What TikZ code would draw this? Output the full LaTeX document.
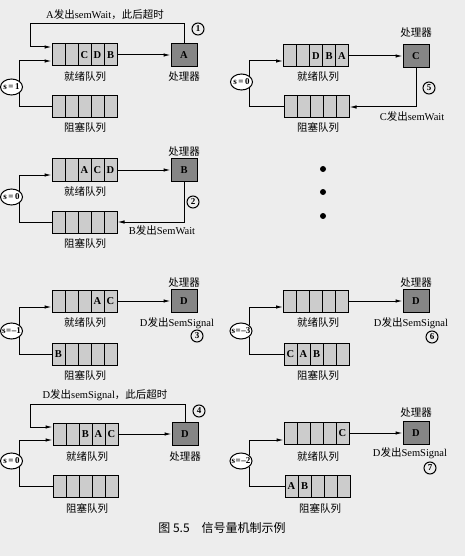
\documentclass[tikz,border=0pt]{standalone}
\usepackage{fontspec}
\setmainfont{Liberation Serif}
\newfontfamily\cjk{Noto Sans CJK SC}
\usetikzlibrary{arrows.meta,shapes.geometric}
\definecolor{cellgray}{gray}{0.80}
\definecolor{cpugray}{gray}{0.52}
\definecolor{paper}{gray}{0.93}

\begin{document}
\begin{tikzpicture}[x=1pt,y=-1pt,line width=1pt,
    cell/.style={draw,fill=cellgray,minimum width=13pt,minimum height=22pt,inner sep=0pt,font=\bfseries\fontsize{10.5}{11}\selectfont},
    cpu/.style={draw,fill=cpugray,minimum width=26pt,minimum height=23pt,inner sep=0pt,font=\bfseries\fontsize{10.5}{11}\selectfont},
    sem/.style={draw,fill=white,ellipse,minimum width=22pt,minimum height=16pt,inner xsep=-5pt,inner ysep=-1pt,font=\bfseries\fontsize{9}{10}\selectfont},
    num/.style={draw,circle,minimum size=12pt,inner sep=0pt,font=\bfseries\fontsize{9}{9}\selectfont},
    lbl/.style={font=\cjk\fontsize{10.5}{12}\selectfont},
    txt/.style={font=\fontsize{10.5}{12}\selectfont},
    arr/.style={-{Latex[length=7pt,width=3.5pt]}}]
    % Background
    \fill[paper] (0,0) rectangle (465,556);
    \useasboundingbox (0,0) rectangle (465,556);

    % (1) s = 1
    \foreach \i/\t in {1/,2/,3/C,4/D,5/B}
        \node[cell] (rq1-\i) at ({45.5+13*\i},55) {\t};
    \foreach \i in {1,...,5}
        \node[cell] (bq1-\i) at ({45.5+13*\i},107) {};
    \node[cpu] (cpu1) at (184,55) {A};
    \node[sem] (s1) at (11.5,87) {s\,=\,1};
    \node[lbl] (rl1) at (85,77) {就绪队列};
    \node[lbl] (bl1) at (85,128) {阻塞队列};
    \node[lbl] (pl1) at (184,77) {处理器};
    \node[txt] (ev1) at (105,15) {A{\cjk 发出}semWait{\cjk ，此后超时}};
    \node[num] (n1) at (198,29) {1};
    \coordinate (t1) at (30,24);
    \draw[arr] (rq1-5.east) -- (cpu1.west);
    \draw[arr] (cpu1.north) |- (t1) |- ([yshift=8pt]rq1-1.west);
    \draw[arr] (s1.north east) |- ([yshift=-6pt]rq1-1.west);
    \draw (s1.south east) |- (bq1-1.west);

    % (2) s = 0
    \foreach \i/\t in {1/,2/,3/A,4/C,5/D}
        \node[cell] (rq2-\i) at ({45.5+13*\i},170) {\t};
    \foreach \i in {1,...,5}
        \node[cell] (bq2-\i) at ({45.5+13*\i},222) {};
    \node[cpu] (cpu2) at (184,170) {B};
    \node[sem] (s2) at (11.5,197) {s\,=\,0};
    \node[lbl] (rl2) at (85,192) {就绪队列};
    \node[lbl] (bl2) at (85,243) {阻塞队列};
    \node[lbl] (pl2) at (184,152) {处理器};
    \node[txt] (ev2) at (162,231) {B{\cjk 发出}SemWait};
    \node[num] (n2) at (193,202) {2};
    \draw[arr] (rq2-5.east) -- (cpu2.west);
    \draw[arr] (cpu2.south) |- (bq2-5.east);
    \draw[arr] (s2.north east) |- ([yshift=-5pt]rq2-1.west);
    \draw (s2.south east) |- (bq2-1.west);

    % (3) s = -1
    \foreach \i/\t in {1/,2/,3/,4/A,5/C}
        \node[cell] (rq3-\i) at ({45.5+13*\i},301) {\t};
    \foreach \i/\t in {1/B,2/,3/,4/,5/}
        \node[cell] (bq3-\i) at ({45.5+13*\i},354) {\t};
    \node[cpu] (cpu3) at (184,301) {D};
    \node[sem] (s3) at (11.5,331) {s\kern.5pt=\kern.5pt--1};
    \node[lbl] (rl3) at (85,323) {就绪队列};
    \node[lbl] (bl3) at (85,375) {阻塞队列};
    \node[lbl] (pl3) at (184,283) {处理器};
    \node[txt] (ev3) at (177,323) {D{\cjk 发出}SemSignal};
    \node[num] (n3) at (197,336) {3};
    \draw[arr] (rq3-5.east) -- (cpu3.west);
    \draw[arr] (s3.north east) |- ([yshift=-6pt]rq3-1.west);
    \draw (s3.south east) |- (bq3-1.west);

    % (4) s = 0
    \foreach \i/\t in {1/,2/,3/B,4/A,5/C}
        \node[cell] (rq4-\i) at ({46.5+13*\i},434) {\t};
    \foreach \i in {1,...,5}
        \node[cell] (bq4-\i) at ({46.5+13*\i},486) {};
    \node[cpu] (cpu4) at (185,434) {D};
    \node[sem] (s4) at (11.5,461) {s\,=\,0};
    \node[lbl] (rl4) at (87,457) {就绪队列};
    \node[lbl] (bl4) at (87,508) {阻塞队列};
    \node[lbl] (pl4) at (185,457) {处理器};
    \node[txt] (ev4) at (105,395) {D{\cjk 发出}semSignal{\cjk ，此后超时}};
    \node[num] (n4) at (199,411) {4};
    \coordinate (t4) at (30,404);
    \draw[arr] (rq4-5.east) -- (cpu4.west);
    \draw[arr] (cpu4.north) |- (t4) |- ([yshift=7pt]rq4-1.west);
    \draw[arr] (s4.north east) |- ([yshift=-6pt]rq4-1.west);
    \draw (s4.south east) |- (bq4-1.west);

    % (5) s = 0
    \foreach \i/\t in {1/,2/,3/D,4/B,5/A}
        \node[cell] (rq5-\i) at ({277+13*\i},56) {\t};
    \foreach \i in {1,...,5}
        \node[cell] (bq5-\i) at ({277.5+13*\i},107) {};
    \node[cpu] (cpu5) at (416,56) {C};
    \node[sem] (s5) at (241.5,82) {s\,=\,0};
    \node[lbl] (rl5) at (318,77) {就绪队列};
    \node[lbl] (bl5) at (318,128) {阻塞队列};
    \node[lbl] (pl5) at (416,33) {处理器};
    \node[txt] (ev5) at (412,117) {C{\cjk 发出}semWait};
    \node[num] (n5) at (429,88) {5};
    \draw[arr] (rq5-5.east) -- (cpu5.west);
    \draw[arr] (cpu5.south) |- (bq5-5.east);
    \draw[arr] (s5.north east) |- ([yshift=-5pt]rq5-1.west);
    \draw (s5.south east) |- (bq5-1.west);

    % dots
    \fill (323,169) circle[radius=3pt];
    \fill (323,192) circle[radius=3pt];
    \fill (323,216) circle[radius=3pt];

    % (6) s = -3
    \foreach \i in {1,...,5}
        \node[cell] (rq6-\i) at ({277+13*\i},301) {};
    \foreach \i/\t in {1/C,2/A,3/B,4/,5/}
        \node[cell] (bq6-\i) at ({277.5+13*\i},354) {\t};
    \node[cpu] (cpu6) at (416,301) {D};
    \node[sem] (s6) at (241,331) {s\kern.5pt=\kern.5pt--3};
    \node[lbl] (rl6) at (318,323) {就绪队列};
    \node[lbl] (bl6) at (318,375) {阻塞队列};
    \node[lbl] (pl6) at (416,283) {处理器};
    \node[txt] (ev6) at (411,323) {D{\cjk 发出}SemSignal};
    \node[num] (n6) at (432,337) {6};
    \draw[arr] (rq6-5.east) -- (cpu6.west);
    \draw[arr] (s6.north east) |- ([yshift=-6pt]rq6-1.west);
    \draw (s6.south east) |- (bq6-1.west);

    % (7) s = -2
    \foreach \i/\t in {1/,2/,3/,4/,5/C}
        \node[cell] (rq7-\i) at ({277.5+13*\i},433) {\t};
    \foreach \i/\t in {1/A,2/B,3/,4/,5/}
        \node[cell] (bq7-\i) at ({278.5+13*\i},486) {\t};
    \node[cpu] (cpu7) at (416,433) {D};
    \node[sem] (s7) at (241,461) {s\kern.5pt=\kern.5pt--2};
    \node[lbl] (rl7) at (318,457) {就绪队列};
    \node[lbl] (bl7) at (320,508) {阻塞队列};
    \node[lbl] (pl7) at (416,413) {处理器};
    \node[txt] (ev7) at (410,453) {D{\cjk 发出}SemSignal};
    \node[num] (n7) at (430,468) {7};
    \draw[arr] (rq7-5.east) -- (cpu7.west);
    \draw[arr] (s7.north east) |- ([yshift=-7pt]rq7-1.west);
    \draw (s7.south east) |- (bq7-1.west);

    % caption
    \node[lbl,font=\cjk\fontsize{12}{14}\selectfont] (cap) at (222,528) {图 5.5\quad 信号量机制示例};
\end{tikzpicture}
\end{document}
